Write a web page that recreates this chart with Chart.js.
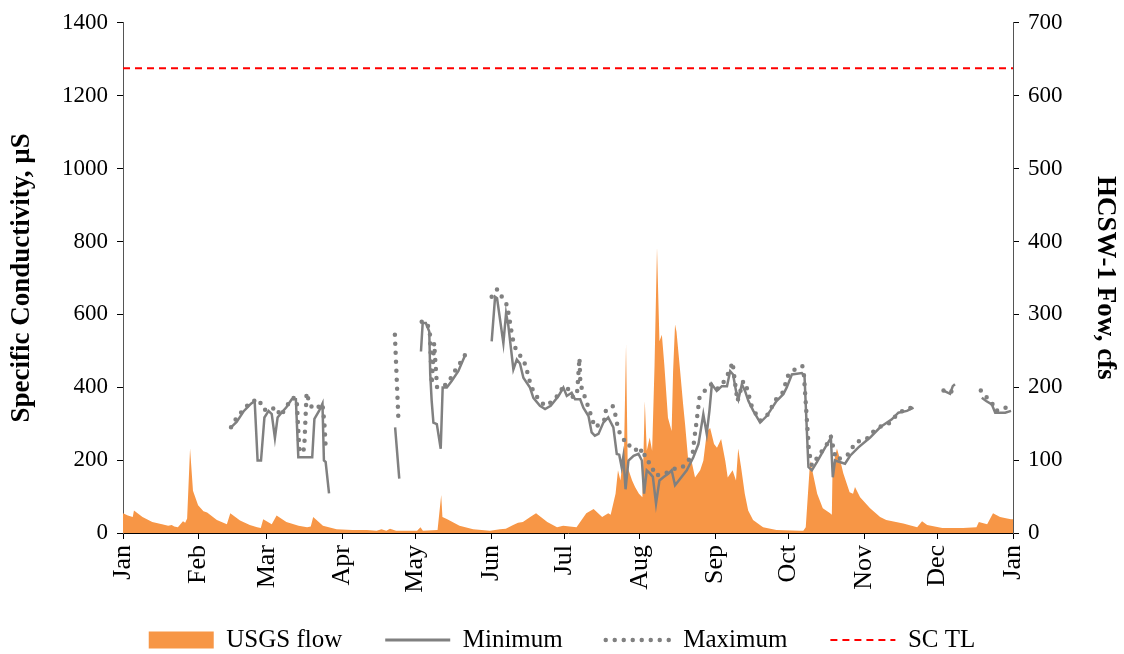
<!DOCTYPE html>
<html>
<head>
<meta charset="utf-8">
<script src="https://cdn.jsdelivr.net/npm/chart.js@4.4.1/dist/chart.umd.min.js"></script>
<style>
  html, body { margin: 0; padding: 0; background: #fff; }
  #wrap { width: 1124px; height: 654px; position: relative; }
</style>
</head>
<body>
<div id="wrap"><canvas id="c" width="1124" height="654"></canvas></div>
<script>
// ---- Data (day of year) ----
const monthTicks = [0, 31, 59, 90, 120, 151, 181, 212, 243, 273, 304, 334, 365];
const monthLabels = ['Jan','Feb','Mar','Apr','May','Jun','Jul','Aug','Sep','Oct','Nov','Dec','Jan'];

const flowDays = [0,2,4,4.5,8,12,16,18.5,20,21,22.5,24.6,25.5,26.3,27.5,28.7,30.8,33,34.5,38.5,42.6,44,48,52,55,56.5,57.5,61,63,67,72,75.5,77,78,82,87.6,94,100,104,106,108,109.5,112,116,120.6,122,123,129,130.5,131,133,138,143.6,150.5,154.6,157,160,162,164,167,169.4,174,178,180.5,186,190,193,196.5,199,200,202,203,204,205.5,206.3,207,208.8,210,211.6,213,214,214.8,216,217,218,219,220,221,222,223.5,225,225.6,226.4,227,228.5,229.7,230.5,231.7,233.4,234.6,236.7,238,239.5,240.8,242.4,243.6,245.3,247,248,250,251.4,252.3,253.5,255,256.4,258.4,262.5,268,277.7,279,280,281.8,282.5,284.7,287,290,290.7,291,292.8,294,295.4,298,299.4,300.2,302.3,306.4,310.5,313,320,325.7,326,327.7,329.8,336,344.5,350,351,354.4,356.8,359.7,362.6,364.2,365];
const flowCfs  = [27,24,22,31,22,15,12,10,11,9,8,16,14,20,116,58,38,30,28,18,12,27,17,11,8,7,19,12,24,15,10,8,9,22,10,5,4,4,3,5,3,6,3,3,3,8,3,4,52,22,19,10,5,3,5,6,11,14,15,22,27,15,8,10,8,27,33,22,27,25,54,86,72,117,259,90,72,63,54,49,181,113,131,113,231,392,263,272,231,158,140,222,286,276,222,177,150,104,95,76,86,99,140,144,122,117,129,99,76,86,72,116,90,54,31,18,8,4,3,3,8,99,89,54,34,27,25,90,116,102,82,56,54,63,49,34,22,18,13,8,8,16,11,7,7,8,15,12,27,22,20,19,19];

const minDays = [44.3,46.6,49.6,52.5,54,55.2,56.6,58,59.7,61,62.3,63.4,65,67,69.2,70.9,71.9,77.6,78.5,80.4,81.8,82.4,83.1,84.5, 95, 111.6,113.3, 118, 122.2,122.9,124.2,125.6,126,126.6,127.3,128.7,130.3,131.1,132.8,134.8,137.5,140.3, 145, 151.2,152.6,153.4,156,157.1,158,160.1,161.5,162.8,164.2,166.9,168.3,171,173.1,175.4,178.6,180.6,182,184,185.4,187.5,188.8,190.9,192.2,193.5,195,197,199,201.1,202.5,203.5,204.5,205.2,206.1,207.3,209.4,211.4,212.8,213.7,214.8,216.2,217.3,218.6,220,221.6,223.7,225,226.4,228.5,231.2,233.9,236,238,239.4,240.5,241.5,243.5,245.6,247.7,249,250.2,251.4,252.4,253.8,255.1,256.5,258.5,261.3,264,265.4,268,270.8,272.2,274.3,278.4,279.5,281.1,282.5,284.5,288,290.3,291.1,292,296.1,298.2,301.6,306.4,310.5,315.3,318,321.5,324.2, 330, 336.5,339.2,340.3,341.2, 346, 352.2,354,356.3,357.7,361.8,364.2];
const minSC   = [290,305,335,355,362,199,199,317,335,326,261,317,330,345,367,367,208,208,313,335,355,199,195,109, null, 290,149, null, 498,576,576,553,436,362,303,299,231,399,399,417,444,488, null, 526,648,644,521,603,571,449,476,465,426,399,371,349,340,349,376,399,376,385,367,367,344,321,276,267,272,303,317,290,217,215,181,210,120,199,212,217,199,108,172,163,154,81,144,153,163,172,131,149,172,208,244,326,272,335,408,390,403,403,444,435,390,367,408,390,362,335,303,321,335,362,381,399,435,439,430,181,172,194,235,261,153,199,190,212,235,262,290,312,330,335,344, null, 391,382,403,408, null, 371,362,353,330,330,335];

const maxDays = [44.3,46.6,49.6,52.5,55.8,57.3,60,62.6,64.7,66.9,69.6,71.2,72.4,74.3,75.3,76.5,78,80,81.8,82.6,83.2, 95, 111.5,113, 118, 122.5,124.2,125.8,126.6,127.6,128.8,130.7,133.4,135.5,138,140.3, 145, 151.2,153.5,155.4,157.6,158.3,159,159.6,160.8,162.8,165.2,166.2,167.6,170.4,173.1,175.4,178.6,180.6,182.7,184.7,186.3,187.2,187.6,189,190.9,192.2,193.5,196,197.3,198,200.8,201.6,203.2,204.9,206.5,209.4,211.4,213.2,214.5,216.5,218.2,220,222.3,225.7,229.2,231.9,233.7,234.2,235.3,236.4,238.7,241.5,243.8,245.8,248.7,250,251,252,254.4,255.8,258,261.3,264.6,267.4,270.5,272.9,276.3,278.6,279.2,281.3,282.5,285.6,288.7,290.3,292.3,294.5,297.6,300.4,305,307.8,311.2,314,317.6,320.8,324.9, 330, 336.5,339.5,341.2, 346, 351.8,353.7,356,358,361.8,364.2];
const maxSC   = [290,316,340,360,367,340,335,346,321,346,371,370,220,230,385,355,340,345,355,300,225, null, 544,303, null, 580,580,558,408,521,400,400,412,439,464,489, null, 648,669,648,624,594,567,539,509,488,460,430,399,367,349,358,379,403,394,371,390,480,408,381,344,317,290,300,308,335,349,335,281,264,240,240,217,231,199,190,158,160,163,176,179,199,221,253,310,370,391,410,396,408,444,469,412,362,417,399,344,308,326,364,385,435,453,458,439,226,185,215,244,265,203,205,217,249,258,279,294,300,326,340,346, null, 391,385,410, null, 391,375,362,335,344,335];

const tlDays = [0, 365];
const tlSC   = [1275, 1275];

// ---- Build chart ----
const toPts = (d, v) => d.map((x, i) => ({ x: x, y: v[i] }));
const SERIF = "'Liberation Serif', 'Times New Roman', serif";
const GRAY = '#808080';
const ORANGE = '#F79646';
const LEG_FONT = 25;
const LEG_PAD = 43;

const legendItems = [
  { text: 'USGS flow', pointStyle: 'rect', fillStyle: ORANGE, strokeStyle: ORANGE, lineWidth: 0, lineDash: [], lineCap: 'butt' },
  { text: 'Minimum', pointStyle: 'line', fillStyle: GRAY, strokeStyle: GRAY, lineWidth: 3, lineDash: [], lineCap: 'butt' },
  { text: 'Maximum', pointStyle: 'line', fillStyle: GRAY, strokeStyle: GRAY, lineWidth: 4.5, lineDash: [0, 9], lineCap: 'round' },
  { text: 'SC TL', pointStyle: 'line', fillStyle: '#FF0000', strokeStyle: '#FF0000', lineWidth: 2, lineDash: [7, 5], lineCap: 'butt' }
];

// Place the single legend row so its centre sits near y = 640
const legendShift = {
  id: 'legendShift',
  afterLayout(chart) {
    const lg = chart.legend;
    if (lg) {
      lg.top = 640 - LEG_PAD - LEG_FONT / 2;
      lg.bottom = 654;
      lg.height = lg.bottom - lg.top;
    }
  }
};

new Chart(document.getElementById('c'), {
  type: 'line',
  data: {
    datasets: [
      { label: 'USGS flow', data: toPts(flowDays, flowCfs), yAxisID: 'y1', fill: 'origin',
        backgroundColor: ORANGE, borderColor: ORANGE, borderWidth: 0, pointRadius: 0, tension: 0, order: 3 },
      { label: 'Minimum', data: toPts(minDays, minSC), yAxisID: 'y', borderColor: GRAY, borderWidth: 2.5,
        pointRadius: 0, spanGaps: false, fill: false, tension: 0, order: 1 },
      { label: 'Maximum', data: toPts(maxDays, maxSC), yAxisID: 'y', borderColor: GRAY, borderWidth: 4.5,
        borderDash: [0, 9], borderCapStyle: 'round', pointRadius: 0, spanGaps: false, fill: false, tension: 0, order: 2 },
      { label: 'SC TL', data: toPts(tlDays, tlSC), yAxisID: 'y', borderColor: '#FF0000', borderWidth: 2,
        borderDash: [7, 5], pointRadius: 0, fill: false, order: 0 }
    ]
  },
  options: {
    responsive: false,
    animation: false,
    devicePixelRatio: 1,
    layout: { padding: { top: 19, left: 0, right: 0, bottom: 0 } },
    plugins: {
      tooltip: { enabled: false },
      legend: {
        position: 'bottom',
        maxHeight: 34,
        labels: {
          usePointStyle: true,
          pointStyleWidth: 65,
          boxHeight: 17,
          padding: LEG_PAD,
          color: '#000',
          font: { family: SERIF, size: LEG_FONT },
          generateLabels: () => legendItems.map((it, i) => Object.assign({ datasetIndex: i, hidden: false, fontColor: '#000' }, it))
        }
      }
    },
    scales: {
      x: {
        type: 'linear', min: 0, max: 365,
        afterBuildTicks: (s) => { s.ticks = monthTicks.map(v => ({ value: v })); },
        afterFit: (s) => { s.height = 87; },
        ticks: {
          autoSkip: false, minRotation: 90, maxRotation: 90, padding: 6,
          color: '#000', font: { family: SERIF, size: 26 },
          callback: (v, i) => monthLabels[i]
        },
        grid: { drawOnChartArea: false, drawTicks: true, tickLength: 6, color: '#000' },
        border: { color: '#000', width: 1 }
      },
      y: {
        position: 'left', min: 0, max: 1400,
        afterFit: (s) => { s.width = 123; },
        ticks: { stepSize: 200, padding: 9, color: '#000', font: { family: SERIF, size: 23 }, callback: (v) => String(v) },
        grid: { drawOnChartArea: false, drawTicks: true, tickLength: 6, color: '#000' },
        border: { color: '#555', width: 1 },
        title: { display: true, text: 'Specific Conductivity, µS', color: '#000',
                 font: { family: SERIF, size: 27, weight: 'bold' }, padding: { top: 6, bottom: 0 } }
      },
      y1: {
        position: 'right', min: 0, max: 700,
        afterFit: (s) => { s.width = 111; },
        ticks: { stepSize: 100, padding: 9, color: '#000', font: { family: SERIF, size: 23 }, callback: (v) => String(v) },
        grid: { drawOnChartArea: false, drawTicks: true, tickLength: 6, color: '#000' },
        border: { color: '#555', width: 1 },
        title: { display: true, text: 'HCSW-1 Fow, cfs', color: '#000',
                 font: { family: SERIF, size: 27, weight: 'bold' }, padding: { top: 3, bottom: 0 } }
      }
    }
  },
  plugins: [legendShift]
});
</script>
</body>
</html>
